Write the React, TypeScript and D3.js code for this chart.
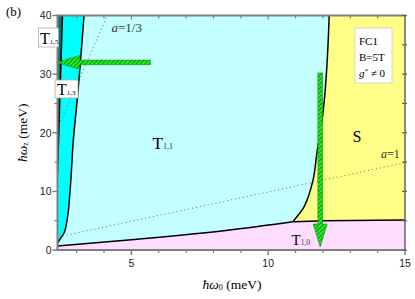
import React from 'react';
import * as d3 from 'd3';

// ---- data ----
const xDomain = [2.3, 15];
const yDomain = [0, 40];
const xTicksMajor = [5, 10, 15];
const xTicksMinor = [3, 4, 6, 7, 8, 9, 11, 12, 13, 14];
const yTicksMajor = [0, 10, 20, 30, 40];
const yTicksMinor = [5, 15, 25, 35];

// phase boundaries (ħω0, ħωz) in meV
const t10Lower: [number, number][] = [[2.3, 0.7], [5, 1.75], [8.6, 3.4], [10.9, 4.8]];
const t10Upper: [number, number][] = [[10.9, 4.8], [12, 5.0], [15, 5.1]];
const sBoundary: [number, number][] = [
  [10.9, 4.8], [11.1, 5.97], [11.28, 7.1], [11.42, 8.53], [11.64, 11.95],
  [11.78, 16.55], [11.97, 22.2], [12.23, 40],
];
const cyanBoundary: [number, number][] = [
  [2.3, 1.2], [2.37, 1.7], [2.45, 2.27], [2.54, 2.9], [2.65, 5.1],
  [2.76, 10.2], [2.88, 18.8], [3.02, 25.6], [3.27, 40],
];
const tealBoundary: [number, number][] = [[2.3, 13], [2.48, 40]];
const aThirdLine: [number, number][] = [[2.42, 22], [4.12, 40]];
const aOneLine: [number, number][] = [[2.5, 2.4], [15, 14.9]];
const arrowsData = [
  { from: [5.7, 32.0], to: [2.27, 32.0] },
  { from: [11.9, 30.2], to: [11.9, 0.5] },
];

const W = 415, H = 299;
const L = 57.5, R = 405, T = 15.5, B = 250;

export default function App() {
  const x = d3.scaleLinear().domain(xDomain).range([L, R]);
  const y = d3.scaleLinear().domain(yDomain).range([B, T]);

  const lineLin = d3.line<[number, number]>().x(d => x(d[0])).y(d => y(d[1]));
  const lineX = d3.line<[number, number]>().x(d => x(d[0])).y(d => y(d[1])).curve(d3.curveMonotoneX);
  const lineY = d3.line<[number, number]>().x(d => x(d[0])).y(d => y(d[1])).curve(d3.curveMonotoneY);
  const asL = (s: string | null) => (s || '').replace(/^M/, 'L');

  const pinkPath = `M${x(2.3)},${y(0)}` + asL(lineX(t10Lower)) + asL(lineX(t10Upper)) + `L${x(15)},${y(0)}Z`;
  const lightCyanPath = `M${x(2.3)},${y(40)}` + asL(lineX(t10Lower)) + asL(lineY(sBoundary)) + 'Z';
  const cyanPath = `M${x(2.3)},${y(40)}` + asL(lineY(cyanBoundary)) + 'Z';
  const tealPath = `M${x(2.3)},${y(40)}` + asL(lineLin(tealBoundary)) + 'Z';

  const arrowPath = (a: { from: number[]; to: number[] }) => {
    const x1 = x(a.from[0]), y1 = y(a.from[1]);
    const x2 = x(a.to[0]), y2 = y(a.to[1]);
    const dx = x2 - x1, dy = y2 - y1;
    const len = Math.hypot(dx, dy);
    const ux = dx / len, uy = dy / len;
    const px = -uy, py = ux;
    const hl = 23, hw = 7, sw = 2.3;
    const bx = x2 - ux * hl, by = y2 - uy * hl;
    const pts = [
      [x1 + px * sw, y1 + py * sw],
      [bx + px * sw, by + py * sw],
      [bx + px * hw, by + py * hw],
      [x2, y2],
      [bx - px * hw, by - py * hw],
      [bx - px * sw, by - py * sw],
      [x1 - px * sw, y1 - py * sw],
    ];
    return 'M' + pts.map(p => p.join(',')).join('L') + 'Z';
  };

  const serif = '"Liberation Serif", "DejaVu Serif", serif';
  const sans = '"Liberation Sans", Arial, sans-serif';
  const axisColor = '#808080';

  return (
    <svg width={W} height={H} style={{ position: 'absolute', left: 0, top: 0, background: '#fff' }}>
      <defs>
        <clipPath id="plot">
          <rect x={L} y={T} width={R - L} height={B - T} />
        </clipPath>
        <pattern id="hatch" patternUnits="userSpaceOnUse" width="3" height="3" patternTransform="rotate(45)">
          <rect width="3" height="3" fill="#22ee22" />
          <line x1="0" y1="0" x2="0" y2="3" stroke="#0a5a0a" strokeWidth="1.3" />
        </pattern>
      </defs>

      <g clipPath="url(#plot)">
        <rect x={L} y={T} width={R - L} height={B - T} fill="#ffff88" />
        <path d={pinkPath} fill="#ffddff" />
        <path d={lightCyanPath} fill="#c4ffff" />
        <path d={cyanPath} fill="#00ffff" />
        <path d={tealPath} fill="#007878" />

        <path d={lineLin(aThirdLine) || ''} fill="none" stroke="#5a6a80" strokeWidth={1} strokeDasharray="1,3" />
        <path d={lineLin(aOneLine) || ''} fill="none" stroke="#5a6a80" strokeWidth={1} strokeDasharray="1,3" />

        <path d={lineX(t10Lower) || ''} fill="none" stroke="#000" strokeWidth={1.5} />
        <path d={lineX(t10Upper) || ''} fill="none" stroke="#000" strokeWidth={1.5} />
        <path d={lineY(sBoundary) || ''} fill="none" stroke="#000" strokeWidth={1.5} />
        <path d={lineY(cyanBoundary) || ''} fill="none" stroke="#000" strokeWidth={1.5} />
        <path d={lineLin(tealBoundary) || ''} fill="none" stroke="#000" strokeWidth={1.5} />
      </g>

      {arrowsData.map((a, i) => (
        <path key={i} d={arrowPath(a)} fill="url(#hatch)" stroke="#1a8a1a" strokeWidth={0.6} />
      ))}

      {/* region labels */}
      <text x={x(2.3) + 95} y={y(17.2)} fontFamily={serif} fontSize={17} fill="#000">
        T<tspan fontSize={8} fill="#333">1,1</tspan>
      </text>
      <text x={x(2.3) + 295} y={y(18.5)} fontFamily={serif} fontSize={16} fill="#000">S</text>
      <text x={x(2.3) + 234} y={y(0.85)} fontFamily={serif} fontSize={15} fill="#000">
        T<tspan fontSize={7.5} fill="#333">1,0</tspan>
      </text>

      {/* a labels */}
      <text x={x(2.3) + 54} y={32} fontFamily={serif} fontSize={13} fill="#333">
        <tspan fontStyle="italic">a</tspan>=1/3
      </text>
      <text x={381} y={158} fontFamily={serif} fontSize={12} fill="#333">
        <tspan fontStyle="italic">a</tspan>=1
      </text>

      {/* legend box */}
      <rect x={355} y={28} width={37} height={55} fill="#fff" stroke="#ccc" strokeWidth={0.8} />
      <text x={359} y={45} fontFamily={serif} fontSize={11} fill="#000">FC1</text>
      <text x={359} y={61} fontFamily={serif} fontSize={11} fill="#000">B=5T</text>
      <text x={359} y={77} fontFamily={serif} fontSize={11} fill="#000">
        <tspan fontStyle="italic">g</tspan><tspan fontSize={7} dy={-4}>*</tspan><tspan dy={4}> ≠ 0</tspan>
      </text>

      {/* axes frame */}
      <line x1={L} y1={T} x2={R} y2={T} stroke={axisColor} strokeWidth={2} />
      <line x1={R} y1={T} x2={R} y2={B} stroke="#606060" strokeWidth={1.5} />
      <line x1={L} y1={T - 1} x2={L} y2={B + 1} stroke={axisColor} strokeWidth={2} />
      <line x1={L - 1} y1={B} x2={R + 1} y2={B} stroke={axisColor} strokeWidth={2} />

      {/* x ticks */}
      {xTicksMajor.map(v => (
        <g key={'xM' + v}>
          <line x1={x(v)} x2={x(v)} y1={B} y2={B + 5} stroke={axisColor} strokeWidth={1.5} />
          <line x1={x(v)} x2={x(v)} y1={T} y2={T + 4} stroke={axisColor} strokeWidth={1.2} />
          <text x={x(v)} y={267} textAnchor="middle" fontFamily={sans} fontSize={10.5} fill="#222">{v}</text>
        </g>
      ))}
      {xTicksMinor.map(v => (
        <g key={'xm' + v}>
          <line x1={x(v)} x2={x(v)} y1={B} y2={B + 3} stroke={axisColor} strokeWidth={1.2} />
          <line x1={x(v)} x2={x(v)} y1={T} y2={T + 3} stroke={axisColor} strokeWidth={1.2} />
        </g>
      ))}

      {/* y ticks */}
      {yTicksMajor.map(v => (
        <g key={'yM' + v}>
          <line x1={L - 5} x2={L} y1={y(v)} y2={y(v)} stroke={axisColor} strokeWidth={1.5} />
          <line x1={R - 3} x2={R + 2} y1={y(v)} y2={y(v)} stroke="#606060" strokeWidth={1.2} />
          <text x={L - 6} y={y(v) + 3.8} textAnchor="end" fontFamily={sans} fontSize={10.5} fill="#222">{v}</text>
        </g>
      ))}
      {yTicksMinor.map(v => (
        <g key={'ym' + v}>
          <line x1={L - 3} x2={L} y1={y(v)} y2={y(v)} stroke={axisColor} strokeWidth={1.2} />
          <line x1={R - 3} x2={R + 2} y1={y(v)} y2={y(v)} stroke="#606060" strokeWidth={1.2} />
        </g>
      ))}

      {/* boxed labels (on top of axis) */}
      <rect x={38.5} y={28} width={20} height={19} fill="#fff" stroke="#aaa" strokeWidth={0.8} />
      <text x={40} y={44} fontFamily={serif} fontSize={16} fill="#000">
        T<tspan fontSize={7}>1,5</tspan>
      </text>
      <rect x={55} y={80} width={23} height={18} fill="#fff" stroke="#aaa" strokeWidth={0.8} />
      <text x={57} y={95} fontFamily={serif} fontSize={16} fill="#000">
        T<tspan fontSize={7}>1,3</tspan>
      </text>

      {/* axis titles */}
      <text x={232} y={289} textAnchor="middle" fontFamily={serif} fontSize={13.5} fill="#000">
        <tspan fontStyle="italic">ħω</tspan><tspan fontSize={8} dy={1}>0</tspan><tspan dy={-1}> (meV)</tspan>
      </text>
      <text transform={`translate(27,${(T + B) / 2}) rotate(-90)`} textAnchor="middle" fontFamily={serif} fontSize={13.5} fill="#000">
        <tspan fontStyle="italic">ħω</tspan><tspan fontSize={8} dy={1}>z</tspan><tspan dy={-1}> (meV)</tspan>
      </text>

      <text x={6} y={16} fontFamily={serif} fontSize={13} fill="#000">(b)</text>
    </svg>
  );
}
